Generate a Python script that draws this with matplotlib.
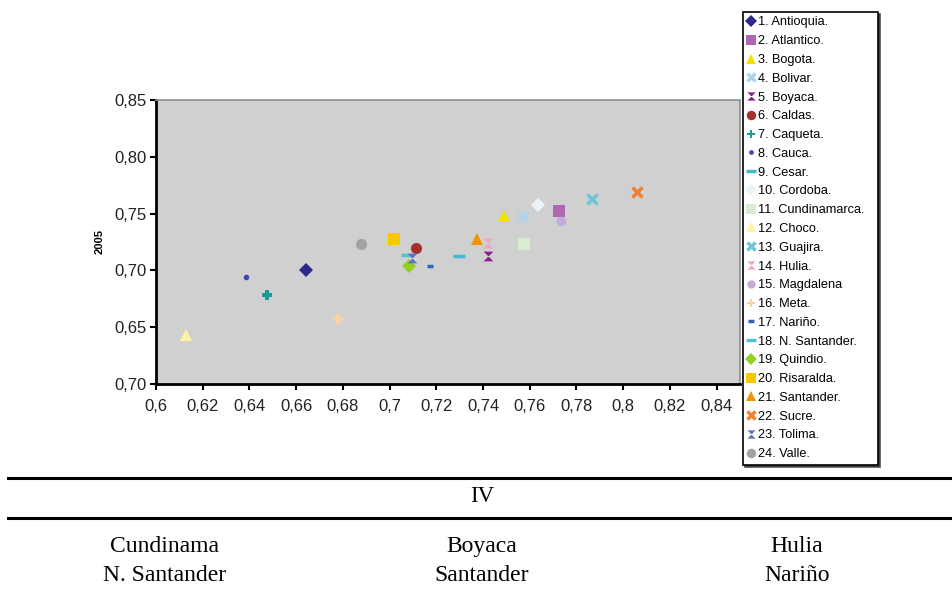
import matplotlib
matplotlib.use("Agg")
import matplotlib.pyplot as plt
from matplotlib.lines import Line2D

# ---- data ----
departments = ["1. Antioquia.", "2. Atlantico.", "3. Bogota.", "4. Bolivar.", "5. Boyaca.",
               "6. Caldas.", "7. Caqueta.", "8. Cauca.", "9. Cesar.", "10. Cordoba.",
               "11. Cundinamarca.", "12. Choco.", "13. Guajira.", "14. Hulia.", "15. Magdalena",
               "16. Meta.", "17. Nariño.", "18. N. Santander.", "19. Quindio.", "20. Risaralda.",
               "21. Santander.", "22. Sucre.", "23. Tolima.", "24. Valle."]
x_vals = [0.664, 0.7726, 0.7488, 0.757, 0.742, 0.7112, 0.6474, 0.6384, 0.7298, 0.7635,
          0.7576, 0.6128, 0.7866, 0.7423, 0.7734, 0.6778, 0.7173, 0.7074, 0.7081, 0.7019,
          0.7376, 0.8061, 0.7098, 0.6879]
y_vals = [0.7006, 0.7521, 0.7477, 0.7483, 0.7124, 0.7198, 0.6786, 0.6938, 0.7124, 0.758,
          0.7236, 0.643, 0.763, 0.7242, 0.7432, 0.6574, 0.7035, 0.7139, 0.7035, 0.7277,
          0.7277, 0.7692, 0.711, 0.7233]
y_ticks = [0.60, 0.65, 0.70, 0.75, 0.80, 0.85]
y_tick_labels = ["0,70", "0,65", "0,70", "0,75", "0,80", "0,85"]
x_ticks = [0.60, 0.62, 0.64, 0.66, 0.68, 0.70, 0.72, 0.74, 0.76, 0.78, 0.80, 0.82, 0.84]
x_tick_labels = ["0,6", "0,62", "0,64", "0,66", "0,68", "0,7", "0,72", "0,74", "0,76",
                 "0,78", "0,8", "0,82", "0,84"]
y_label = "2005"
table_header = "IV"
table_cols = ["Cundinama\nN. Santander", "Boyaca\nSantander", "Hulia\nNariño"]

# ---- styles ----
hourglass = [(-1, 1), (1, 1), (-1, -1), (1, -1), (-1, 1)]
styles = [
    ("D", "#2b2a8a", 7.5), ("s", "#b067b0", 8), ("^", "#f2e000", 8), ("x", "#a9d6ee", 7),
    (hourglass, "#8a1f8a", 7), ("o", "#a8302a", 8), ("P", "#1a9a9c", 7), ("o", "#3a4aae", 4),
    ("_", "#45b9d3", 8), ("D", "#eaf4f8", 7.5), ("s", "#d8ecd2", 8), ("^", "#fff2a0", 8),
    ("x", "#6cc6d6", 7), (hourglass, "#f2a2c2", 7), ("o", "#c2aadb", 7), ("P", "#f8d2a2", 7),
    ("_", "#3062c0", 5), ("_", "#52c2d2", 8), ("D", "#92d024", 7.5), ("s", "#f7c800", 8),
    ("^", "#f09400", 8), ("x", "#f08032", 7), (hourglass, "#6272c2", 7), ("o", "#a2a2a2", 8),
]

sans = ["Liberation Sans", "DejaVu Sans"]
fig = plt.figure(figsize=(9.53, 6.05), dpi=100)
ax = fig.add_axes([156 / 953, 1 - 384 / 605, 584 / 953, 284 / 605])
ax.set_facecolor("#d0d0d0")

handles = []
for name, x, y, (m, c, s) in zip(departments, x_vals, y_vals, styles):
    lw = 2.5 if m in ("x", "_") else 0.0
    h, = ax.plot([x], [y], linestyle="none", marker=m, color=c, markersize=s,
                 markeredgewidth=lw, label=name, zorder=3)
    handles.append(h)

ax.set_xlim(0.6, 0.85)
ax.set_ylim(0.6, 0.85)
ax.set_xticks(x_ticks)
ax.set_xticklabels(x_tick_labels, fontfamily=sans, fontsize=12, color="#222222")
ax.set_yticks(y_ticks)
ax.set_yticklabels(y_tick_labels, fontfamily=sans, fontsize=12, color="#222222")
ax.tick_params(axis="both", direction="out", length=4, width=1.5, color="black")
ax.tick_params(axis="x", pad=7)
ax.tick_params(axis="y", pad=3)
for side in ("left", "bottom"):
    ax.spines[side].set_linewidth(2)
    ax.spines[side].set_color("black")
for side in ("top", "right"):
    ax.spines[side].set_linewidth(1.2)
    ax.spines[side].set_color("#909090")

fig.text(100 / 953, 1 - 242 / 605, y_label, rotation=90, ha="center", va="center",
         fontsize=8, fontweight="bold", family=sans)

leg = fig.legend(handles=handles, loc="upper left",
                 bbox_to_anchor=(743 / 953, 1 - 468 / 605, 135 / 953, 456 / 605),
                 bbox_transform=fig.transFigure, mode="expand",
                 borderaxespad=0, frameon=True, fancybox=False,
                 shadow={"ox": 1.5, "oy": -1.5, "color": "#404040", "alpha": 0.9},
                 prop={"family": sans, "size": 9.2}, labelspacing=0.53,
                 handlelength=0.6, handletextpad=0.25, borderpad=0.35, markerscale=0.85)
leg.get_frame().set_edgecolor("black")
leg.get_frame().set_linewidth(1.2)
leg.get_frame().set_facecolor("white")
leg.get_frame().set_alpha(1)

# table below
for yy in (478, 518):
    fig.add_artist(Line2D([8 / 953, 1], [1 - yy / 605, 1 - yy / 605],
                          color="black", linewidth=2.2))
serif = ["Liberation Serif", "DejaVu Serif"]
fig.text(482 / 953, 1 - 497 / 605, table_header, ha="center", va="center",
         family=serif, fontsize=16.5)
for cx, txt in zip([165, 482, 797], table_cols):
    fig.text(cx / 953, 1 - 561 / 605, txt, ha="center", va="center",
             family=serif, fontsize=17, linespacing=1.5)

fig.savefig("out.png", dpi=100)
